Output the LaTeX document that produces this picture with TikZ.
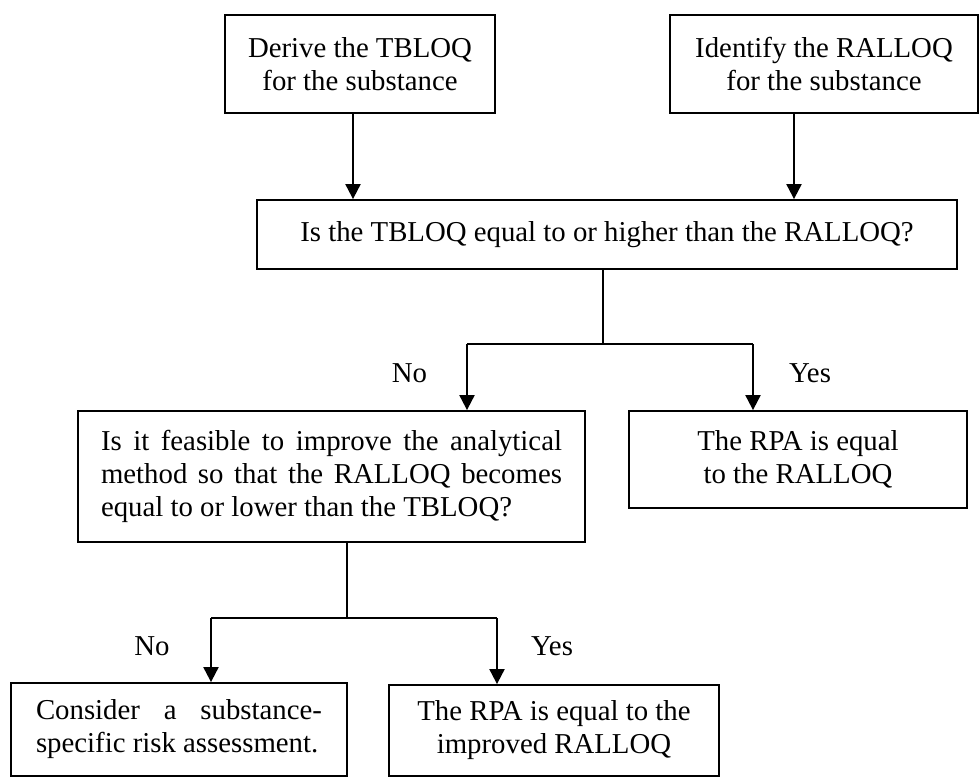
\documentclass[tikz,border=0pt]{standalone}
\usepackage{fontspec}
\setmainfont{Liberation Serif}
\usetikzlibrary{arrows.meta}
\begin{document}
\begin{tikzpicture}[x=1pt,y=-1pt,
  every node/.style={font=\fontsize{28.8}{33}\selectfont},
  box/.style={draw, line width=1.8pt, inner sep=0pt, align=center},
  jbox/.style={draw, line width=1.8pt, inner ysep=0pt, align=justify},
  arr/.style={line width=2pt, -{Triangle[width=15pt,length=15pt]}},
  branch/.style={line width=1.5pt},
  lbl/.style={anchor=base, inner sep=0pt}]
\useasboundingbox (0,0) rectangle (980,778);
\node[box, minimum width=270pt, minimum height=98pt] (b1) at (360,64) {Derive the TBLOQ\\for the substance};
\node[box, minimum width=308pt, minimum height=98pt] (b2) at (824,64) {Identify the RALLOQ\\for the substance};
\node[box, minimum width=700pt, minimum height=69pt] (b3) at (607,234.5) {Is the TBLOQ equal to or higher than the RALLOQ?};
\node[jbox, text width=461pt, inner xsep=23pt, minimum width=507pt, minimum height=131pt] (b4) at (331.5,476.5) {Is it feasible to improve the analytical\linebreak method so that the RALLOQ becomes\linebreak equal to or lower than the TBLOQ?};
\node[box, minimum width=338pt, minimum height=97pt] (b5) at (798,459.5) {The RPA is equal\\to the RALLOQ};
\node[jbox, text width=286pt, inner xsep=25pt, minimum width=336pt, minimum height=93pt] (b6) at (179,729.5) {Consider a substance-\linebreak specific risk assessment.};
\node[box, minimum width=330pt, minimum height=91pt] (b7) at (554,730.5) {The RPA is equal to the\\improved RALLOQ};
\coordinate (x1) at (353,0);
\coordinate (x2) at (794,0);
\draw[arr] (b1.south -| x1) -- (b3.north -| x1);
\draw[arr] (b2.south -| x2) -- (b3.north -| x2);
\coordinate (j1) at (603,344);
\coordinate (n1) at (467,344);
\coordinate (y1) at (753,344);
\draw[branch] (b3.south -| j1) -- (j1);
\draw[branch] (n1) -- (y1);
\draw[arr] (n1) -- (b4.north -| n1);
\draw[arr] (y1) -- (b5.north -| y1);
\coordinate (j2) at (347,618);
\coordinate (n2) at (211,618);
\coordinate (y2) at (497,618);
\draw[branch] (b4.south -| j2) -- (j2);
\draw[branch] (n2) -- (y2);
\draw[arr] (n2) -- (b6.north -| n2);
\draw[arr] (y2) -- (b7.north -| y2);
\node[lbl] (no1) at (409.5,382) {No};
\node[lbl] (yes1) at (810,382) {Yes};
\node[lbl] (no2) at (152,655) {No};
\node[lbl] (yes2) at (552,655) {Yes};
\end{tikzpicture}
\end{document}
